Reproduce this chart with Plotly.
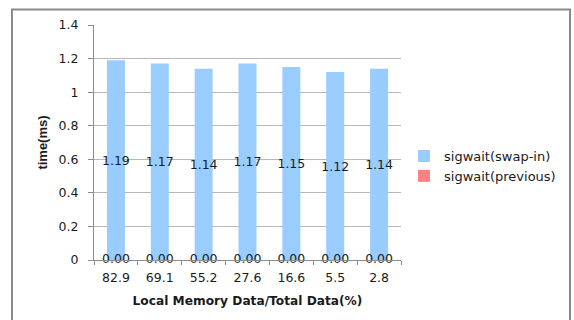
import plotly.graph_objects as go

# Data
categories = ["82.9", "69.1", "55.2", "27.6", "16.6", "5.5", "2.8"]
swap_in = [1.19, 1.17, 1.14, 1.17, 1.15, 1.12, 1.14]
previous = [0.00, 0.00, 0.00, 0.00, 0.00, 0.00, 0.00]
y_ticks = [0, 0.2, 0.4, 0.6, 0.8, 1.0, 1.2, 1.4]
y_tick_text = ["0", "0.2", "0.4", "0.6", "0.8", "1", "1.2", "1.4"]

FONT = "DejaVu Sans"
TXT = "#1a1a1a"
GRID = "#b8b8b8"
AXIS = "#8c8c8c"

fig = go.Figure()

fig.add_trace(go.Bar(
    name="sigwait(swap-in)",
    x=categories, y=swap_in,
    marker=dict(color="#99ccff", line=dict(width=0)),
    width=0.41,
    text=[f"{v:.2f}" for v in swap_in],
    textposition="inside",
    insidetextanchor="middle",
    constraintext="none",
    textangle=0,
    textfont=dict(family=FONT, size=12.5, color=TXT),
))

fig.add_trace(go.Bar(
    name="sigwait(previous)",
    x=categories, y=previous,
    marker=dict(color="#ff8080", line=dict(width=0)),
    width=0.41,
    textposition="none",
))

# value labels of the zero-height series, centred on the baseline
fig.add_trace(go.Scatter(
    x=categories, y=previous,
    mode="text",
    text=[f"{v:.2f}" for v in previous],
    textposition="middle center",
    textfont=dict(family=FONT, size=12.5, color=TXT),
    showlegend=False,
    hoverinfo="skip",
    cliponaxis=False,
))

fig.update_layout(
    width=574, height=320,
    margin=dict(l=94, r=173, t=25, b=60, autoexpand=False),
    paper_bgcolor="white",
    plot_bgcolor="white",
    barmode="overlay",
    font=dict(family=FONT, size=12.5, color=TXT),
    showlegend=True,
    legend=dict(
        xref="container", yref="container",
        x=404 / 574, xanchor="left",
        y=1 - 141 / 320, yanchor="top",
        font=dict(family=FONT, size=13, color=TXT),
        bgcolor="rgba(0,0,0,0)",
        tracegroupgap=0,
    ),
    xaxis=dict(
        type="category",
        showgrid=False,
        showline=True, linecolor=AXIS, linewidth=1,
        ticks="outside", ticklen=4, tickcolor=AXIS,
        tickson="boundaries",
        ticklabelstandoff=6,
        tickfont=dict(family=FONT, size=12.5, color=TXT),
        title=dict(text="<b>Local Memory Data/Total Data(%)</b>",
                   font=dict(family=FONT, size=12.2, color=TXT),
                   standoff=12),
    ),
    yaxis=dict(
        range=[0, 1.4],
        tickvals=y_ticks, ticktext=y_tick_text,
        showgrid=True, gridcolor=GRID, gridwidth=1,
        zeroline=False,
        showline=True, linecolor=AXIS, linewidth=1,
        ticks="outside", ticklen=5, tickcolor=AXIS,
        ticklabelstandoff=7,
        tickfont=dict(family=FONT, size=12.5, color=TXT),
        title=dict(text="<b>time(ms)</b>",
                   font=dict(family="Liberation Sans", size=13, color=TXT),
                   standoff=8),
    ),
    shapes=[dict(
        type="rect", xref="paper", yref="paper",
        x0=-82 / 307, x1=476 / 307, y0=-0.5, y1=(260 - 9.5) / 235,
        line=dict(color="#8a8a8a", width=2),
        fillcolor="rgba(0,0,0,0)", layer="below",
    )],
)

fig.write_html("out.html")
